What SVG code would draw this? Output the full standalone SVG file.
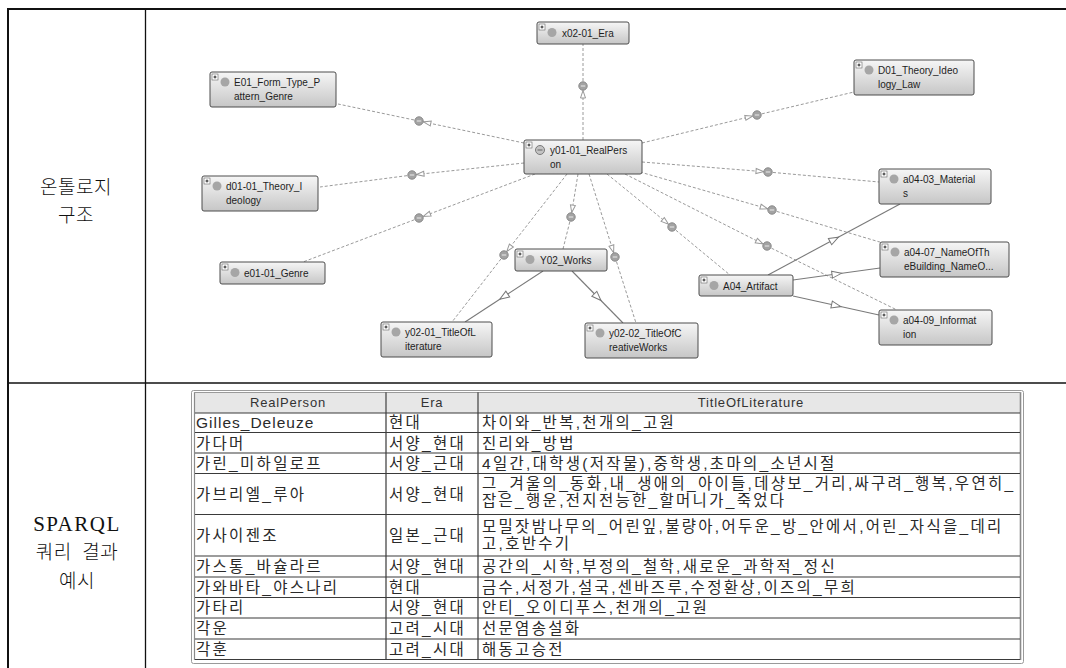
<svg xmlns="http://www.w3.org/2000/svg" xmlns:xlink="http://www.w3.org/1999/xlink" width="1066" height="668" viewBox="0 0 1066 668">
<style>
.frame{stroke:#111;fill:none}
.lbl{font-family:"Noto Sans CJK KR","Liberation Sans",sans-serif;font-size:19px;font-weight:300;fill:#111;letter-spacing:0.5px;word-spacing:6px;text-anchor:middle}
.lblser{font-family:"Liberation Serif",serif;font-size:21px;fill:#111;letter-spacing:1.5px;text-anchor:middle}
.nb{fill:url(#ng);stroke:#4d4d4d;stroke-width:1}
.ic{fill:#a6a6a6}
.nt{font-family:"Liberation Sans",Arial,sans-serif;font-size:10px;fill:#1e1e1e}
.dash{stroke:#9a9a9a;stroke-width:1;stroke-dasharray:3 2;fill:none}
.solid{stroke:#7a7a7a;stroke-width:1.1;fill:none}
.pc{fill:#a3a3a3;stroke:#8a8a8a;stroke-width:1}
.pm{stroke:#e0e0e0;stroke-width:1.2}
.th{font-family:"Liberation Sans",Arial,sans-serif;font-size:13px;letter-spacing:0.8px;fill:#333;text-anchor:middle}
.td{font-family:"Liberation Sans","Noto Sans CJK KR",sans-serif;font-size:15.5px;letter-spacing:2.3px;fill:#2a2a2a}
.lat{letter-spacing:1px}
.rl{stroke:#3a3a3a;stroke-width:1.2}
.cl{stroke:#6a6a6a;stroke-width:1.6}
</style>
<defs>
<linearGradient id="ng" x1="0" y1="0" x2="0" y2="1">
<stop offset="0" stop-color="#f6f6f6"/>
<stop offset="1" stop-color="#c6c6c6"/>
</linearGradient>
<g id="plus"><rect width="6" height="6" fill="#fff" stroke="#666" stroke-width="0.6"/><path d="M1.5,3h3M3,1.5v3" stroke="#000" stroke-width="0.8"/></g>
<marker id="oa" markerUnits="userSpaceOnUse" markerWidth="14" markerHeight="8" refX="12.5" refY="3" orient="auto" overflow="visible">
<path d="M0.5,0.5 L8,3 L0.5,5.5 z" fill="#fff" stroke="#999" stroke-width="1"/>
</marker>
<marker id="sa" markerUnits="userSpaceOnUse" markerWidth="12" markerHeight="9" refX="5" refY="4" orient="auto" overflow="visible">
<path d="M0.5,0.5 L10,4 L0.5,7.5 z" fill="#fff" stroke="#777" stroke-width="1"/>
</marker>
</defs>
<rect width="1066" height="668" fill="#fff"/>

<g id="frame">
<line class="frame" x1="8" y1="9" x2="1066" y2="9" stroke-width="2"/>
<line class="frame" x1="8" y1="8" x2="8" y2="668" stroke-width="2"/>
<line class="frame" x1="145.5" y1="9" x2="145.5" y2="668" stroke-width="1.3"/>
<line class="frame" x1="8" y1="383" x2="1066" y2="383" stroke-width="1.5"/>
<text class="lbl" x="76" y="194">온톨로지</text>
<text class="lbl" x="76" y="222">구조</text>
<text class="lblser" x="77" y="531">SPARQL</text>
<text class="lbl" x="77" y="559">쿼리 결과</text>
<text class="lbl" x="77" y="588">예시</text>
</g>

<g id="connectors">
<path class="dash" d="M583,140 L583,86" marker-end="url(#oa)"/><path class="dash" d="M583,86 L583,44"/>
<path class="dash" d="M524,143 L419,121" marker-end="url(#oa)"/><path class="dash" d="M419,121 L338,104"/>
<path class="dash" d="M524,163 L412,175" marker-end="url(#oa)"/><path class="dash" d="M412,175 L320,187"/>
<path class="dash" d="M535,174 L419,218" marker-end="url(#oa)"/><path class="dash" d="M419,218 L303,262"/>
<path class="dash" d="M642,143 L757,115" marker-end="url(#oa)"/><path class="dash" d="M757,115 L854,92"/>
<path class="dash" d="M642,162 L768,172" marker-end="url(#oa)"/><path class="dash" d="M768,172 L879,182"/>
<path class="dash" d="M640,172 L772,210" marker-end="url(#oa)"/><path class="dash" d="M772,210 L883,243"/>
<path class="dash" d="M625,174 L767,246" marker-end="url(#oa)"/><path class="dash" d="M767,246 L897,310"/>
<path class="dash" d="M607,174 L672,227" marker-end="url(#oa)"/><path class="dash" d="M672,227 L730,275"/>
<path class="dash" d="M578,174 L571,217" marker-end="url(#oa)"/><path class="dash" d="M571,217 L563,249"/>
<path class="dash" d="M589,174 L615,257" marker-end="url(#oa)"/><path class="dash" d="M615,257 L636,323"/>
<path class="dash" d="M567,174 L504,255" marker-end="url(#oa)"/><path class="dash" d="M504,255 L452,322"/>
<g id="props">
<circle class="pc" cx="583" cy="86" r="4.2"/><line class="pm" x1="580.8" y1="86" x2="585.2" y2="86"/>
<circle class="pc" cx="419" cy="121" r="4.2"/><line class="pm" x1="416.8" y1="121" x2="421.2" y2="121"/>
<circle class="pc" cx="412" cy="175" r="4.2"/><line class="pm" x1="409.8" y1="175" x2="414.2" y2="175"/>
<circle class="pc" cx="419" cy="218" r="4.2"/><line class="pm" x1="416.8" y1="218" x2="421.2" y2="218"/>
<circle class="pc" cx="757" cy="115" r="4.2"/><line class="pm" x1="754.8" y1="115" x2="759.2" y2="115"/>
<circle class="pc" cx="768" cy="172" r="4.2"/><line class="pm" x1="765.8" y1="172" x2="770.2" y2="172"/>
<circle class="pc" cx="772" cy="210" r="4.2"/><line class="pm" x1="769.8" y1="210" x2="774.2" y2="210"/>
<circle class="pc" cx="767" cy="246" r="4.2"/><line class="pm" x1="764.8" y1="246" x2="769.2" y2="246"/>
<circle class="pc" cx="672" cy="227" r="4.2"/><line class="pm" x1="669.8" y1="227" x2="674.2" y2="227"/>
<circle class="pc" cx="571" cy="217" r="4.2"/><line class="pm" x1="568.8" y1="217" x2="573.2" y2="217"/>
<circle class="pc" cx="615" cy="257" r="4.2"/><line class="pm" x1="612.8" y1="257" x2="617.2" y2="257"/>
<circle class="pc" cx="504" cy="255" r="4.2"/><line class="pm" x1="501.8" y1="255" x2="506.2" y2="255"/>
</g>
<path class="solid" d="M543,271 L504,296.5 L465,322" marker-mid="url(#sa)"/>
<path class="solid" d="M572,271 L597.5,297 L623,323" marker-mid="url(#sa)"/>
<path class="solid" d="M768,275 L834,239.5 L900,204" marker-mid="url(#sa)"/>
<path class="solid" d="M793,280 L836.5,274 L880,268" marker-mid="url(#sa)"/>
<path class="solid" d="M793,296 L836,305.5 L879,315" marker-mid="url(#sa)"/>
</g>

<g id="n-era" transform="translate(537,22)"><rect class="nb" width="92" height="22" rx="2"/><use href="#plus" x="2" y="2"/><circle class="ic" cx="15" cy="10.5" r="4.5"/><text class="nt" x="25" y="15">x02-01_Era</text></g>
<g id="n-e01" transform="translate(210,72)"><rect class="nb" width="126" height="35" rx="2"/><use href="#plus" x="2" y="2"/><circle class="ic" cx="15" cy="10" r="4.5"/><text class="nt" x="24" y="14">E01_Form_Type_P</text><text class="nt" x="24" y="28">attern_Genre</text></g>
<g id="n-d01" transform="translate(854,60)"><rect class="nb" width="120" height="35" rx="2"/><use href="#plus" x="2" y="2"/><circle class="ic" cx="15" cy="10" r="4.5"/><text class="nt" x="24" y="14">D01_Theory_Ideo</text><text class="nt" x="24" y="28">logy_Law</text></g>
<g id="n-person" transform="translate(524,140)"><rect class="nb" width="118" height="34" rx="2"/><use href="#plus" x="2" y="2"/><circle cx="16" cy="10" r="4.5" fill="#c4c4c4" stroke="#7a7a7a" stroke-width="1"/><line x1="13.5" y1="10" x2="18.5" y2="10" stroke="#666" stroke-width="1"/><text class="nt" x="26" y="14">y01-01_RealPers</text><text class="nt" x="26" y="28">on</text></g>
<g id="n-d0101" transform="translate(202,176)"><rect class="nb" width="116" height="35" rx="2"/><use href="#plus" x="2" y="2"/><circle class="ic" cx="15" cy="10" r="4.5"/><text class="nt" x="24" y="14">d01-01_Theory_I</text><text class="nt" x="24" y="28">deology</text></g>
<g id="n-a0403" transform="translate(879,169)"><rect class="nb" width="112" height="35" rx="2"/><use href="#plus" x="2" y="2"/><circle class="ic" cx="15" cy="10" r="4.5"/><text class="nt" x="24" y="14">a04-03_Material</text><text class="nt" x="24" y="28">s</text></g>
<g id="n-e0101" transform="translate(220,262)"><rect class="nb" width="105" height="22" rx="2"/><use href="#plus" x="2" y="2"/><circle class="ic" cx="15" cy="10.5" r="4.5"/><text class="nt" x="24" y="15">e01-01_Genre</text></g>
<g id="n-y02" transform="translate(515,249)"><rect class="nb" width="92" height="22" rx="2"/><use href="#plus" x="2" y="2"/><circle class="ic" cx="15" cy="10.5" r="4.5"/><text class="nt" x="25" y="15">Y02_Works</text></g>
<g id="n-a0407" transform="translate(880,242)"><rect class="nb" width="129" height="35" rx="2"/><use href="#plus" x="2" y="2"/><circle class="ic" cx="15" cy="10" r="4.5"/><text class="nt" x="24" y="14">a04-07_NameOfTh</text><text class="nt" x="24" y="28">eBuilding_NameO...</text></g>
<g id="n-a04" transform="translate(699,275)"><rect class="nb" width="94" height="21" rx="2"/><use href="#plus" x="2" y="2"/><circle class="ic" cx="15" cy="10.5" r="4.5"/><text class="nt" x="24" y="15">A04_Artifact</text></g>
<g id="n-a0409" transform="translate(879,310)"><rect class="nb" width="113" height="35" rx="2"/><use href="#plus" x="2" y="2"/><circle class="ic" cx="15" cy="10" r="4.5"/><text class="nt" x="24" y="14">a04-09_Informat</text><text class="nt" x="24" y="28">ion</text></g>
<g id="n-y0201" transform="translate(381,322)"><rect class="nb" width="111" height="35" rx="2"/><use href="#plus" x="2" y="2"/><circle class="ic" cx="15" cy="10" r="4.5"/><text class="nt" x="24" y="14">y02-01_TitleOfL</text><text class="nt" x="24" y="28">iterature</text></g>
<g id="n-y0202" transform="translate(585,323)"><rect class="nb" width="113" height="35" rx="2"/><use href="#plus" x="2" y="2"/><circle class="ic" cx="15" cy="10" r="4.5"/><text class="nt" x="24" y="14">y02-02_TitleOfC</text><text class="nt" x="24" y="28">reativeWorks</text></g>

<g id="table">
<rect x="191.5" y="390.5" width="832" height="273" rx="2" fill="#fff" stroke="#9a9a9a" stroke-width="1"/>
<rect x="194.5" y="392.5" width="826" height="20.5" fill="#e7e7e7" stroke="none"/>
<line x1="194.5" y1="392" x2="194.5" y2="660" stroke="#8a8a8a" stroke-width="1.2"/>
<line x1="1020.5" y1="392" x2="1020.5" y2="660" stroke="#8a8a8a" stroke-width="1.6"/>
<line x1="194" y1="392.5" x2="1021" y2="392.5" stroke="#9a9a9a" stroke-width="1"/>
<line class="cl" x1="386" y1="392" x2="386" y2="659"/>
<line class="cl" x1="478" y1="392" x2="478" y2="659"/>
<line class="rl" x1="195" y1="413" x2="1020" y2="413"/>
<line class="rl" x1="195" y1="432.5" x2="1020" y2="432.5"/>
<line class="rl" x1="195" y1="453" x2="1020" y2="453"/>
<line class="rl" x1="195" y1="473.5" x2="1020" y2="473.5"/>
<line class="rl" x1="195" y1="514.5" x2="1020" y2="514.5"/>
<line class="rl" x1="195" y1="556" x2="1020" y2="556"/>
<line class="rl" x1="195" y1="577" x2="1020" y2="577"/>
<line class="rl" x1="195" y1="597.5" x2="1020" y2="597.5"/>
<line class="rl" x1="195" y1="618" x2="1020" y2="618"/>
<line class="rl" x1="195" y1="639" x2="1020" y2="639"/>
<line class="rl" x1="195" y1="659.5" x2="1020" y2="659.5"/>
<text class="th" x="288" y="407">RealPerson</text>
<text class="th" x="432" y="407">Era</text>
<text class="th" x="751" y="407">TitleOfLiterature</text>

<text class="td lat" x="196" y="428">Gilles_Deleuze</text><text class="td" x="389" y="428">현대</text><text class="td" x="482" y="428">차이와_반복,천개의_고원</text>
<text class="td" x="196" y="448.5">가다머</text><text class="td" x="389" y="448.5">서양_현대</text><text class="td" x="482" y="448.5">진리와_방법</text>
<text class="td" x="196" y="469">가린_미하일로프</text><text class="td" x="389" y="469">서양_근대</text><text class="td" x="482" y="469">4일간,대학생(저작물),중학생,초마의_소년시절</text>
<text class="td" x="196" y="500">가브리엘_루아</text><text class="td" x="389" y="500">서양_현대</text><text class="td" x="482" y="489">그_겨울의_동화,내_생애의_아이들,데샹보_거리,싸구려_행복,우연히_</text><text class="td" x="482" y="506">잡은_행운,전지전능한_할머니가_죽었다</text>
<text class="td" x="196" y="541">가사이젠조</text><text class="td" x="389" y="541">일본_근대</text><text class="td" x="482" y="531.5">모밀잣밤나무의_어린잎,불량아,어두운_방_안에서,어린_자식을_데리</text><text class="td" x="482" y="548.5">고,호반수기</text>
<text class="td" x="196" y="572">가스통_바슐라르</text><text class="td" x="389" y="572">서양_현대</text><text class="td" x="482" y="572">공간의_시학,부정의_철학,새로운_과학적_정신</text>
<text class="td" x="196" y="592.5">가와바타_야스나리</text><text class="td" x="389" y="592.5">현대</text><text class="td" x="482" y="592.5">금수,서정가,설국,센바즈루,수정환상,이즈의_무희</text>
<text class="td" x="196" y="613">가타리</text><text class="td" x="389" y="613">서양_현대</text><text class="td" x="482" y="613">안티_오이디푸스,천개의_고원</text>
<text class="td" x="196" y="634">각운</text><text class="td" x="389" y="634">고려_시대</text><text class="td" x="482" y="634">선문염송설화</text>
<text class="td" x="196" y="654.5">각훈</text><text class="td" x="389" y="654.5">고려_시대</text><text class="td" x="482" y="654.5">해동고승전</text>
</g>
</svg>
